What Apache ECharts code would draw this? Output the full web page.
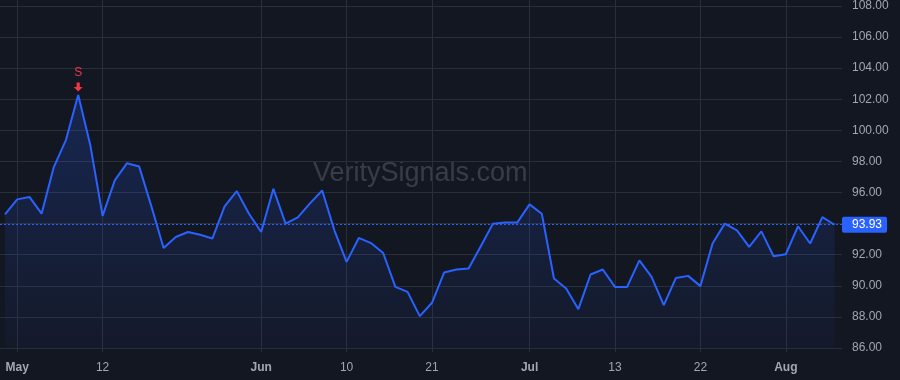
<!DOCTYPE html>
<html>
<head>
<meta charset="utf-8">
<script src="https://cdn.jsdelivr.net/npm/echarts@6/dist/echarts.min.js"></script>
<style>
  html, body { margin: 0; padding: 0; background: #131722; }
  #chart { width: 900px; height: 380px; }
</style>
</head>
<body>
<div id="chart"></div>
<script>
// ---- data ----
const values = [
  94.60, 95.56, 95.72, 94.64, 97.64, 99.39, 102.27, 99.02, 94.50, 96.78,
  97.89, 97.67, 95.11, 92.43, 93.14, 93.46, 93.29, 93.04, 95.11, 96.09,
  94.64, 93.46, 96.24, 94.00, 94.40, 95.30, 96.13, 93.57, 91.54, 93.08,
  92.75, 92.11, 89.93, 89.61, 88.05, 88.91, 90.86, 91.05, 91.11, 92.54,
  94.00, 94.08, 94.08, 95.24, 94.64, 90.47, 89.83, 88.50, 90.73, 91.05,
  89.93, 89.93, 91.64, 90.57, 88.76, 90.51, 90.64, 89.98, 92.72, 94.00,
  93.57, 92.50, 93.50, 91.90, 92.03, 93.83, 92.72, 94.42, 93.93
];
const categories = values.map((_, i) => i);
const tickIndex = [1, 8, 21, 28, 35, 43, 50, 57, 64];
const tickLabels = ['May', '12', 'Jun', '10', '21', 'Jul', '13', '22', 'Aug'];
const monthLabels = ['May', 'Jun', 'Jul', 'Aug'];
const signalIndex = 6;
const signalText = 'S';
const lastPrice = 93.93;
const yMin = 86, yMax = 108, yStep = 2;
const watermark = 'VeritySignals.com';

// ---- chart ----
const FONT = '"Liberation Sans", Arial, sans-serif';
const chart = echarts.init(document.getElementById('chart'), null, { renderer: 'canvas' });

const option = {
  backgroundColor: '#131722',
  animation: false,
  textStyle: { fontFamily: FONT },
  graphic: [{
    type: 'text',
    left: 313,
    top: 160,
    z: 0,
    style: {
      text: watermark,
      fill: 'rgba(255,255,255,0.16)',
      font: '27px ' + FONT
    }
  }],
  grid: [
    { left: 0, right: 58, top: 5, bottom: 32 },
    { left: 5, right: 65.4, top: 0, bottom: 28 }
  ],
  xAxis: [
    {
      type: 'value', gridIndex: 0, min: -0.41, max: 68.61, show: false
    },
    {
      type: 'category', gridIndex: 1, data: categories, boundaryGap: false,
      axisLine: { show: false }, axisTick: { show: false },
      splitLine: {
        show: true,
        interval: (i) => tickIndex.includes(i),
        lineStyle: { color: '#2a2e39', width: 1 }
      },
      axisLabel: {
        interval: (i) => tickIndex.includes(i),
        margin: 10,
        formatter: (v, i) => {
          const k = tickIndex.indexOf(i);
          if (k < 0) return '';
          const t = tickLabels[k];
          return monthLabels.includes(t) ? '{b|' + t + '}' : '{n|' + t + '}';
        },
        rich: {
          b: { fontWeight: 'bold', fontSize: 12, color: '#a3a6af', fontFamily: FONT },
          n: { fontSize: 12, color: '#a3a6af', fontFamily: FONT }
        }
      }
    }
  ],
  yAxis: [
    {
      type: 'value', gridIndex: 0, position: 'right',
      min: yMin, max: yMax, interval: yStep,
      axisLine: { show: false }, axisTick: { show: false },
      splitLine: { show: true, lineStyle: { color: '#2a2e39', width: 1 } },
      axisLabel: {
        margin: 10, color: '#a3a6af', fontSize: 12, fontFamily: FONT,
        formatter: (v) => Math.abs(v - Math.round(lastPrice)) < 0.001 ? '' : v.toFixed(2)
      }
    },
    {
      type: 'value', gridIndex: 1, min: yMin, max: yMax, show: false
    }
  ],
  series: [{
    type: 'line',
    xAxisIndex: 0, yAxisIndex: 0,
    data: values.map((v, i) => [i, v]),
    showSymbol: false,
    symbol: 'none',
    z: 3,
    lineStyle: { color: '#2962ff', width: 2 },
    areaStyle: {
      color: new echarts.graphic.LinearGradient(0, 0, 0, 1, [
        { offset: 0, color: 'rgba(41,98,255,0.30)' },
        { offset: 1, color: 'rgba(41,98,255,0.05)' }
      ])
    },
    markLine: {
      silent: true,
      symbol: ['none', 'none'],
      lineStyle: { color: '#2962ff', type: [2, 2], width: 1 },
      label: {
        show: true, position: 'end', distance: 0,
        formatter: () => lastPrice.toFixed(2),
        backgroundColor: '#2962ff', color: '#ffffff',
        fontSize: 12, fontFamily: FONT,
        padding: [2, 5, 2, 10], borderRadius: 2
      },
      data: [{ yAxis: lastPrice }]
    },
    markPoint: {
      silent: true,
      symbol: 'path://M2.6,0 L5.4,0 L5.4,4 L8,4 L4,8 L0,4 L2.6,4 Z',
      symbolSize: [9, 9],
      symbolOffset: [0, -8],
      itemStyle: { color: '#f23645' },
      label: {
        show: true, position: 'top', distance: 4,
        formatter: signalText, color: '#f23645', fontSize: 12, fontFamily: FONT
      },
      data: [{ coord: [signalIndex, values[signalIndex]] }]
    }
  }]
};
chart.setOption(option);
</script>
</body>
</html>
